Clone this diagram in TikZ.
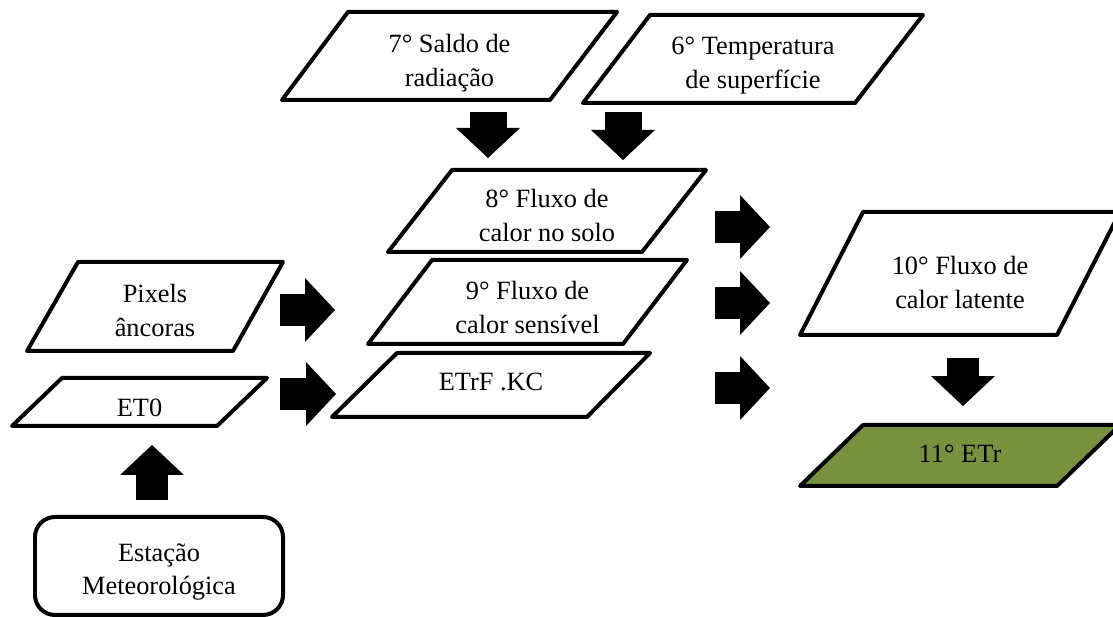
\documentclass[tikz,border=0pt]{standalone}
\usepackage{fontspec}
\setmainfont{Liberation Serif}
\usetikzlibrary{arrows.meta}
\definecolor{olive}{HTML}{76923C}

\tikzset{
  box/.style={draw, line width=0.08cm, line join=round},
  txt/.style={align=center, inner sep=1pt},
  blk/.style={line width=0.64cm, -{Triangle[length=0.6cm,width=1.28cm,line width=0pt]}},
}

\begin{document}
\begin{tikzpicture}[x=0.02cm, y=-0.02cm, font=\fontsize{15}{19.3}\selectfont]
 \useasboundingbox (0,0) rectangle (1113,617);
 \clip (0,0) rectangle (1113,617);

 % boxes
 \draw[box] (282,100) -- (348,12) -- (617,12) -- (550,100) -- cycle;
 \draw[box] (583,103) -- (650,15) -- (923,15) -- (855,103) -- cycle;
 \draw[box] (388,252) -- (452,170) -- (706,170) -- (642,252) -- cycle;
 \draw[box] (368,344) -- (432,260) -- (687,260) -- (623,344) -- cycle;
 \draw[box] (332,417) -- (397,353) -- (650,353) -- (587,417) -- cycle;
 \draw[box] (27,351) -- (78,262) -- (283,262) -- (233,351) -- cycle;
 \draw[box] (12,426) -- (62,378) -- (267,378) -- (217,426) -- cycle;
 \draw[box] (800,335) -- (863,212) -- (1120,212) -- (1057,335) -- cycle;
 \draw[box, fill=olive] (800,486) -- (863,425) -- (1120,425) -- (1057,486) -- cycle;
 \draw[box, rounded corners=0.4cm] (35,517) rectangle (283,615);

 % labels
 \node[txt] (rad) at (449.5,63.5) {7° Saldo de\\radiação};
 \node[txt] (temp) at (753,65.5) {6° Temperatura\\de superfície};
 \node[txt] (solo) at (547,215.5) {8° Fluxo de\\calor no solo};
 \node[txt] (sens) at (527.5,307.5) {9° Fluxo de\\calor sensível};
 \node[txt] (etrf) at (491,382) {ETrF .KC};
 \node[txt] (pix) at (155,310.5) {Pixels\\âncoras};
 \node[txt] (et0) at (139.5,408) {ET0};
 \node[txt] (lat) at (960,282.5) {10° Fluxo de\\calor latente};
 \node[txt] (etr) at (960,454) {11° ETr};
 \node[txt] (est) at (159,572) {Estação\\Meteorológica};

 % block arrows
 \coordinate (rad1) at (488,112); \coordinate (rad2) at (488,158);
 \coordinate (temp1) at (623,112); \coordinate (temp2) at (623,160);
 \coordinate (pix1) at (280,310); \coordinate (pix2) at (335,310);
 \coordinate (et01) at (280,394); \coordinate (et02) at (336,394);
 \coordinate (solo1) at (715,227); \coordinate (solo2) at (770,227);
 \coordinate (sens1) at (715,303); \coordinate (sens2) at (770,303);
 \coordinate (etrf1) at (715,388); \coordinate (etrf2) at (770,388);
 \coordinate (lat1) at (963,358); \coordinate (lat2) at (963,406);
 \coordinate (est1) at (152,500); \coordinate (est2) at (152,445);

 \draw[blk, line width=0.74cm] (rad1) -- (rad2);
 \draw[blk, line width=0.74cm] (temp1) -- (temp2);
 \draw[blk] (pix1) -- (pix2);
 \draw[blk] (et01) -- (et02);
 \draw[blk] (solo1) -- (solo2);
 \draw[blk] (sens1) -- (sens2);
 \draw[blk] (etrf1) -- (etrf2);
 \draw[blk] (lat1) -- (lat2);
 \draw[blk] (est1) -- (est2);
\end{tikzpicture}
\end{document}
